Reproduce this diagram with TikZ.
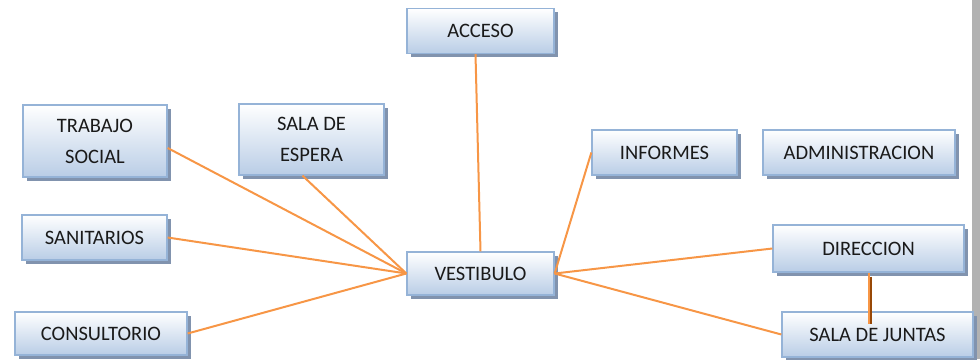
\documentclass[tikz,border=0pt]{standalone}
\usepackage{fontspec}
\setmainfont{Carlito}
\usetikzlibrary{shadows}
\definecolor{boxline}{HTML}{95B3D7}
\definecolor{boxfill}{HTML}{B9CDE6}
\definecolor{boxshadow}{HTML}{8193AE}
\definecolor{boxtext}{HTML}{1A1A1A}
\definecolor{linkorange}{HTML}{F79646}
\definecolor{linkbrown}{HTML}{984807}
\definecolor{edgegrey}{HTML}{B2B2B2}
\tikzset{room/.style={draw=boxline,line width=1.3pt,top color=white,bottom color=boxfill,text=boxtext,align=center,font=\fontsize{20.5}{31}\selectfont,minimum width=#1,minimum height=45pt,inner sep=0pt,drop shadow={shadow xshift=3.5pt,shadow yshift=-3.5pt,fill=boxshadow,opacity=1}},
link/.style={draw=linkorange,line width=2pt}}

\begin{document}
\begin{tikzpicture}[x=1pt,y=-1pt]
\useasboundingbox (0,0) rectangle (980,359);
\fill[edgegrey] (972,0) rectangle (980,359);
\node[room=147pt] (acceso) at (480.5,31) {ACCESO};
\node[room=144pt,minimum height=72pt] (trabajo) at (95,141) {TRABAJO\\SOCIAL};
\node[room=145pt,minimum height=71pt] (espera) at (311.5,139.5) {SALA DE\\ESPERA};
\node[room=145pt] (informes) at (664.5,152.5) {INFORMES};
\node[room=192pt] (admin) at (859,152.5) {ADMINISTRACION};
\node[room=145pt] (sanitarios) at (94.5,237.5) {SANITARIOS};
\node[room=147pt,minimum height=43pt] (vestibulo) at (480.5,273.5) {VESTIBULO};
\node[room=191pt,minimum height=47pt] (direccion) at (868.5,248.5) {DIRECCION};
\node[room=191pt] (juntas) at (877.5,334.5) {SALA DE JUNTAS};
\node[room=172pt,minimum height=43pt] (consultorio) at (101,333.5) {CONSULTORIO};
% lines to the vestibulo
\draw[link] ([xshift=-5pt]acceso.south) -- (vestibulo.north);
\draw[link] ([yshift=-7pt]trabajo.east) -- (vestibulo.west);
\draw[link] ([xshift=-9pt]espera.south) -- (vestibulo.west);
\draw[link] (sanitarios.east) -- (vestibulo.west);
\draw[link] (consultorio.east) -- (vestibulo.west);
\draw[link] (informes.west) -- (vestibulo.east);
\draw[link] (direccion.west) -- (vestibulo.east);
\draw[link] (juntas.west) -- (vestibulo.east);
% direccion to sala de juntas
\coordinate (juntastop) at ([yshift=-13pt]direccion.south |- juntas.north);
\draw[linkbrown,line width=1.4pt] ([xshift=2.5pt,yshift=-4pt]direccion.south) -- ([xshift=2.5pt]juntastop);
\draw[link] (direccion.south) -- (juntastop);
\end{tikzpicture}
\end{document}
